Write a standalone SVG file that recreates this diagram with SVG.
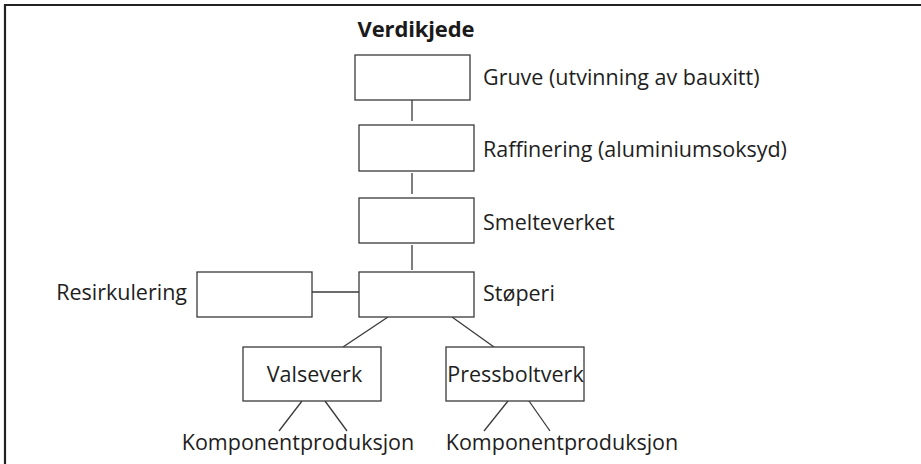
<svg xmlns="http://www.w3.org/2000/svg" width="921" height="464" viewBox="0 0 921 464">
<style>
.box{fill:#fff;stroke:#3a3a3a;stroke-width:1.3}
.ln{stroke:#3a3a3a;stroke-width:1.3;fill:none}
.t{font-family:"Open Sans","Noto Sans",sans-serif;font-size:21.5px;fill:#1e1e1e}
.title{font-family:"Open Sans","Noto Sans",sans-serif;font-size:22px;font-weight:bold;fill:#1a1a1a}
</style>
<rect width="921" height="464" fill="#fff"/>
<path d="M5,464 V5 H921" fill="none" stroke="#222" stroke-width="2.2"/>
<text class="title" x="416" y="37" text-anchor="middle" textLength="117" lengthAdjust="spacing">Verdikjede</text>
<g id="connectors">
<line class="ln" x1="412" y1="100" x2="412" y2="121"/>
<line class="ln" x1="412" y1="173" x2="412" y2="194"/>
<line class="ln" x1="412" y1="245" x2="412" y2="270"/>
<line class="ln" x1="312" y1="292" x2="359" y2="292"/>
<line class="ln" x1="388" y1="317" x2="343" y2="347"/>
<line class="ln" x1="452" y1="317" x2="494" y2="347"/>
<line class="ln" x1="302" y1="401" x2="279" y2="431"/>
<line class="ln" x1="325" y1="401" x2="347" y2="431"/>
<line class="ln" x1="508" y1="401" x2="484" y2="431"/>
<line class="ln" x1="529" y1="401" x2="550" y2="431"/>
</g>
<g id="gruve">
<rect class="box" x="355" y="55" width="115" height="45"/>
<text class="t" x="483" y="85">Gruve (utvinning av bauxitt)</text>
</g>
<g id="raffinering">
<rect class="box" x="359" y="125" width="115" height="46"/>
<text class="t" x="483" y="157">Raffinering (aluminiumsoksyd)</text>
</g>
<g id="smelteverket">
<rect class="box" x="359" y="198" width="115" height="45"/>
<text class="t" x="483" y="230">Smelteverket</text>
</g>
<g id="stoperi">
<rect class="box" x="359" y="272" width="115" height="45"/>
<text class="t" x="483" y="301">Støperi</text>
</g>
<g id="resirkulering">
<rect class="box" x="197" y="272" width="115" height="45"/>
<text class="t" x="187" y="300" text-anchor="end">Resirkulering</text>
</g>
<g id="valseverk">
<rect class="box" x="243" y="347" width="138" height="54"/>
<text class="t" x="314.5" y="382" text-anchor="middle">Valseverk</text>
</g>
<g id="pressboltverk">
<rect class="box" x="446" y="347" width="138" height="54"/>
<text class="t" x="515.5" y="382" text-anchor="middle">Pressboltverk</text>
</g>
<g id="komp1">
<text class="t" x="298" y="450" text-anchor="middle">Komponentproduksjon</text>
</g>
<g id="komp2">
<text class="t" x="562" y="450" text-anchor="middle">Komponentproduksjon</text>
</g>
</svg>
